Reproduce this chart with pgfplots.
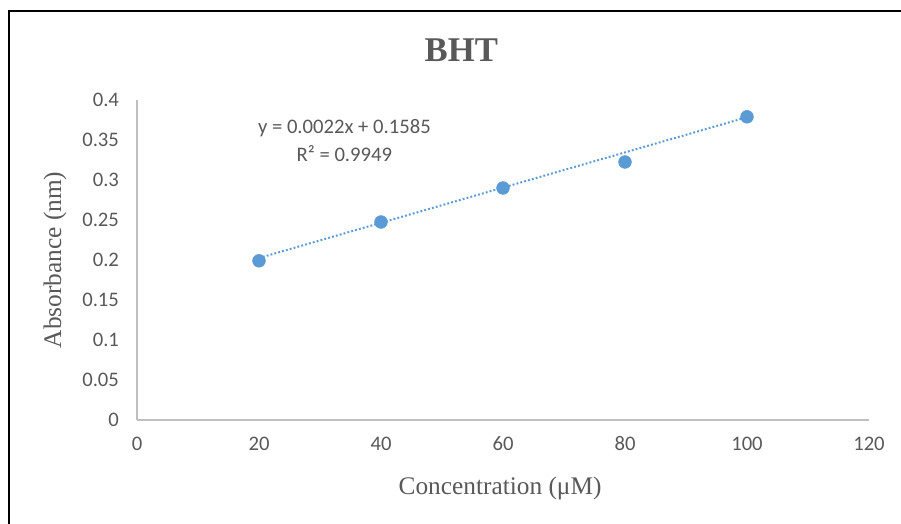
\documentclass[border=0pt]{standalone}
\usepackage{fontspec}
\setmainfont{Liberation Serif}
\newfontfamily\calibri{Carlito}
\usepackage{pgfplots}
\pgfplotsset{compat=1.18}
\begin{document}
\begin{tikzpicture}
\definecolor{excelblue}{HTML}{5B9BD5}
\definecolor{txtgrey}{HTML}{595959}
\definecolor{axgrey}{HTML}{BFBFBF}
\useasboundingbox (0pt,0pt) rectangle (675.75pt,393pt);
\fill[white] (0pt,0pt) rectangle (675.75pt,393pt);
\draw[black,line width=1.6pt] (6.75pt,-10pt) -- (6.75pt,384.75pt) -- (690pt,384.75pt);
\begin{axis}[at={(102.75pt,78pt)},anchor=south west,scale only axis,
  width=549pt,height=240pt,
  xmin=0,xmax=120,ymin=0,ymax=0.4,
  xtick={0,20,40,60,80,100,120},xticklabels={0,20,40,60,80,100,120},
  ytick={0,0.05,0.1,0.15,0.2,0.25,0.3,0.35,0.4},
  yticklabels={0,0.05,0.1,0.15,0.2,0.25,0.3,0.35,0.4},
  axis lines=left,axis line style={axgrey,line width=1pt,-},
  major tick length=0pt,
  tick label style={font=\calibri\fontsize{15.5}{18}\selectfont,text=txtgrey},
  xticklabel style={yshift=-9pt},
  yticklabel style={xshift=-10pt},
  xlabel={Concentration (μM)},ylabel={Absorbance (nm)},
  label style={font=\fontsize{19}{22}\selectfont,text=txtgrey},
  xlabel style={at={(axis description cs:0.496,-0.215)},anchor=center},
  ylabel style={at={(axis description cs:-0.112,0.5)},anchor=center},
  title={\textbf{BHT}},
  title style={font=\fontsize{26}{30}\selectfont,text=txtgrey,at={(axis description cs:0.443,1.13)},anchor=center},
  clip=false]
% trendline y = 0.0022x + 0.1585
\addplot[excelblue,line width=1.5pt,dash pattern=on 1.4pt off 1.6pt] coordinates {(20,0.2025) (100,0.3785)};
\addplot[only marks,mark=*,mark size=4.8pt,mark options={fill=excelblue,draw=excelblue}] coordinates {(20,0.199) (40,0.2475) (60,0.29) (80,0.3225) (100,0.379)};
\node[font=\calibri\fontsize{15.5}{21}\selectfont,text=txtgrey,align=center] at (axis cs:34,0.349) {y = 0.0022x + 0.1585\\R² = 0.9949};
\end{axis}
\end{tikzpicture}
\end{document}
